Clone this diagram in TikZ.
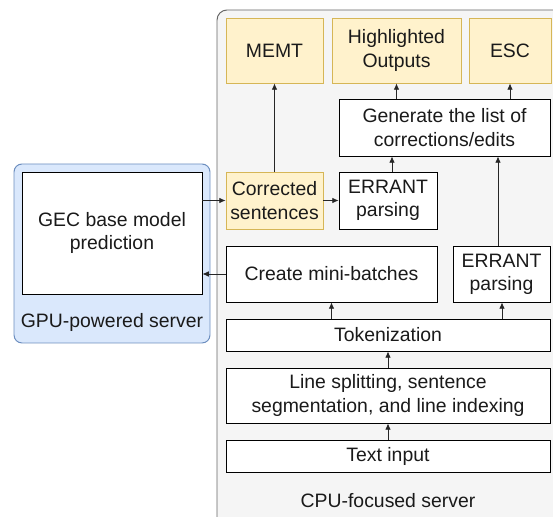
\documentclass[tikz,border=0pt]{standalone}
\usepackage{fontspec}
\setmainfont{Liberation Sans}
\usetikzlibrary{arrows.meta}
\definecolor{gpufill}{HTML}{DAE8FC}
\definecolor{gpuline}{HTML}{6C8EBF}
\definecolor{cpufill}{HTML}{F5F5F5}
\definecolor{cpuline}{HTML}{666666}
\definecolor{outfill}{HTML}{FFF2CC}
\definecolor{outline}{HTML}{D6B656}
\definecolor{txt}{HTML}{1A1A1A}
\begin{document}
\begin{tikzpicture}[x=0.025cm, y=-0.025cm,
        every node/.style={font=\fontsize{13.8}{16.5}\selectfont, text=txt, align=center, inner sep=0pt},
        box/.style={draw=black, fill=white, line width=0.6pt},
        outbox/.style={draw=outline, fill=outfill, line width=0.6pt},
        link/.style={-{Latex[length=4.5pt, width=4pt]}, line width=0.6pt, draw=black!85}]
            \def\U{0.025cm}
            \useasboundingbox (0, 0) rectangle (553, 517);

            % Servers
            \draw[fill=cpufill, draw=cpuline, line width=0.7pt, rounded corners=0.25cm] (217, 10) rectangle (570, 535);
            \draw[fill=gpufill, draw=gpuline, line width=0.7pt, rounded corners=0.2cm] (14, 164) rectangle (210, 343);
            \node (gpu) at (112, 322) {GPU-powered server};
            \node (cpu) at (388, 501) {CPU-focused server};

            % GPU side
            \node[box, minimum width=180*\U, minimum height=122*\U] (gec) at (112, 233) {GEC base model\\prediction};

            % Outputs
            \node[outbox, minimum width=97*\U, minimum height=65*\U] (memt) at (274.5, 50.5) {MEMT};
            \node[outbox, minimum width=129*\U, minimum height=65*\U] (high) at (396.5, 50.5) {Highlighted\\Outputs};
            \node[outbox, minimum width=82*\U, minimum height=65*\U] (esc) at (510, 50.5) {ESC};

            % CPU side
            \node[box, minimum width=211*\U, minimum height=57*\U] (gen) at (444.5, 127.5) {Generate the list of\\corrections/edits};
            \node[outbox, minimum width=97*\U, minimum height=57*\U] (corr) at (274.5, 200.5) {Corrected\\sentences};
            \node[box, minimum width=98*\U, minimum height=57*\U] (err1) at (388, 200.5) {ERRANT\\parsing};
            \node[box, minimum width=211*\U, minimum height=56*\U] (batch) at (331.5, 274) {Create mini-batches};
            \node[box, minimum width=97*\U, minimum height=56*\U] (err2) at (501.5, 274) {ERRANT\\parsing};
            \node[box, minimum width=324*\U, minimum height=32*\U] (tok) at (388, 335) {Tokenization};
            \node[box, minimum width=324*\U, minimum height=55*\U] (split) at (388, 395.5) {Line splitting, sentence\\segmentation, and line indexing};
            \node[box, minimum width=324*\U, minimum height=32*\U] (input) at (388, 456) {Text input};

            % Connections
            \draw[link] (input) -- (split);
            \draw[link] (split) -- (tok);
            \draw[link] (batch.south |- tok.north) -- (batch.south);
            \draw[link] ([xshift=0.5*\U]err2.south |- tok.north) -- ([xshift=0.5*\U]err2.south);
            \draw[link] (batch.west) -- (gec.east |- batch.west);
            \draw[link] (gec.east |- corr.west) -- (corr.west);
            \draw[link] (corr.east) -- (err1.west);
            \draw[link] (corr) -- (memt);
            \draw[link] ([xshift=4*\U]err1.north) -- ([xshift=4*\U]err1.north |- gen.south);
            \draw[link] ([xshift=-3.5*\U]err2.north) -- ([xshift=-3.5*\U]err2.north |- gen.south);
            \draw[link] (high.south |- gen.north) -- (high.south);
            \draw[link] (esc.south |- gen.north) -- (esc.south);
        \end{tikzpicture}
\end{document}
